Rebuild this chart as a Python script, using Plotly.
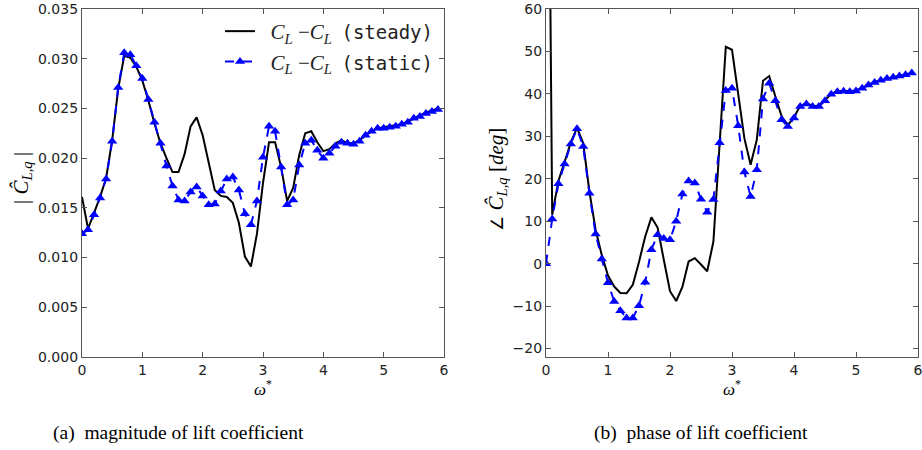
import plotly.graph_objects as go

omega = [round(0.1 * i, 1) for i in range(60)]

mag_steady = [0.0161, 0.0129, 0.0145, 0.0161, 0.0180, 0.0218, 0.0270, 0.0303, 0.0301, 0.0292,
              0.0278, 0.0258, 0.0235, 0.0215, 0.0200, 0.0186, 0.0186, 0.0204, 0.0232, 0.0241,
              0.0223, 0.0194, 0.0168, 0.0162, 0.0161, 0.0155, 0.0135, 0.0101, 0.0091, 0.0124,
              0.0175, 0.0216, 0.0216, 0.0191, 0.0157, 0.0170, 0.0203, 0.0225, 0.0227, 0.0216,
              0.0207, 0.0209, 0.0215, 0.0218, 0.0215, 0.0215, 0.0218, 0.0223, 0.0227, 0.0230,
              0.0231, 0.0232, 0.0233, 0.0234, 0.0237, 0.0240, 0.0243, 0.0246, 0.0248, 0.0250]

mag_static = [0.0124, 0.0128, 0.0143, 0.0160, 0.0179, 0.0217, 0.0271, 0.0306, 0.0304, 0.0293,
              0.0280, 0.0259, 0.0236, 0.0215, 0.0192, 0.0172, 0.0158, 0.0157, 0.0166, 0.0171,
              0.0162, 0.0153, 0.0154, 0.0167, 0.0179, 0.0181, 0.0168, 0.0144, 0.0133, 0.0157,
              0.0201, 0.0232, 0.0227, 0.0191, 0.0153, 0.0158, 0.0193, 0.0215, 0.0218, 0.0208,
              0.0200, 0.0205, 0.0212, 0.0216, 0.0215, 0.0214, 0.0217, 0.0223, 0.0227, 0.0230,
              0.0230, 0.0231, 0.0232, 0.0234, 0.0236, 0.0240, 0.0242, 0.0245, 0.0247, 0.0249]

ph_steady = [180.0, 11.5, 19.5, 24.0, 28.5, 32.0, 28.4, 17.0, 8.0, 2.0,
             -2.8, -5.4, -6.9, -7.0, -5.0, 0.4, 6.4, 10.9, 8.5, 0.9,
             -6.5, -8.8, -5.5, 0.5, 1.3, -0.2, -1.8, 5.2, 29.0, 51.1,
             50.4, 40.0, 29.5, 23.3, 29.2, 43.1, 44.2, 39.4, 34.7, 32.6,
             34.5, 37.2, 37.8, 37.2, 37.1, 38.5, 40.0, 40.6, 40.7, 40.6,
             40.8, 41.4, 42.2, 42.8, 43.2, 43.6, 43.9, 44.2, 44.5, 44.9]

ph_static = [0.0, 10.5, 18.8, 23.5, 28.2, 31.8, 27.6, 16.6, 7.0, 1.1,
             -4.5, -8.9, -11.1, -12.8, -12.8, -9.9, -4.4, 3.3, 6.8, 5.9,
             5.6, 10.0, 16.4, 19.5, 19.0, 15.2, 12.1, 15.1, 28.5, 40.8,
             41.3, 32.5, 21.6, 15.8, 22.1, 38.8, 42.5, 38.4, 33.9, 32.3,
             34.3, 37.0, 37.6, 37.0, 37.0, 38.4, 39.9, 40.5, 40.6, 40.5,
             40.7, 41.3, 42.1, 42.7, 43.2, 43.6, 43.9, 44.2, 44.5, 44.9]

W, H = 922, 450


def px(x):
    return x / W


def py(y):
    return 1 - y / H


FRAME = "#555555"
TICKFONT = dict(family="DejaVu Sans", size=14, color="#222222")
MONO = "font-family:'DejaVu Sans Mono';font-size:19px"
PAD = "\u2002"

legend_steady = (PAD + "<i>C<sub>L</sub></i> \u2212<i>C<sub>L</sub></i>\u2009 "
                 f"<span style=\"{MONO}\">(steady)</span>")
legend_static = (PAD + "<i>C<sub>L</sub></i> \u2212<i>C<sub>L</sub></i>\u2009 "
                 f"<span style=\"{MONO}\">(static)</span>")

fig = go.Figure()

fig.add_trace(go.Scatter(x=omega, y=mag_steady, mode="lines", name=legend_steady,
                         line=dict(color="black", width=2), xaxis="x", yaxis="y"))
fig.add_trace(go.Scatter(x=omega, y=mag_static, mode="lines+markers", name=legend_static,
                         line=dict(color="#0000ff", width=2, dash="dash"),
                         marker=dict(symbol="triangle-up", size=9, color="#0000ff"),
                         xaxis="x", yaxis="y"))
fig.add_trace(go.Scatter(x=omega, y=ph_steady, mode="lines", showlegend=False,
                         line=dict(color="black", width=2), xaxis="x2", yaxis="y2"))
fig.add_trace(go.Scatter(x=omega, y=ph_static, mode="lines+markers", showlegend=False,
                         line=dict(color="#0000ff", width=2, dash="dash"),
                         marker=dict(symbol="triangle-up", size=9, color="#0000ff"),
                         xaxis="x2", yaxis="y2"))

ydom = [py(357), py(9)]
axis_common = dict(showline=True, linecolor=FRAME, linewidth=1.3, mirror="allticks",
                   ticks="inside", ticklen=5, tickcolor=FRAME, showgrid=False,
                   zeroline=False, tickfont=TICKFONT, automargin=False,
                   ticklabeloverflow="allow")

fig.update_layout(
    template="none",
    width=W, height=H,
    margin=dict(l=0, r=0, t=0, b=0, pad=0),
    paper_bgcolor="white", plot_bgcolor="white",
    xaxis=dict(domain=[px(82), px(444)], range=[0, 6], dtick=1, anchor="y", **axis_common),
    yaxis=dict(domain=ydom, range=[0, 0.035], dtick=0.005, tickformat=".3f", anchor="x",
               **axis_common),
    xaxis2=dict(domain=[px(546), px(918)], range=[0, 6], dtick=1, anchor="y2", **axis_common),
    yaxis2=dict(domain=ydom, range=[-22, 60], tickvals=[-20, -10, 0, 10, 20, 30, 40, 50, 60],
                ticktext=["\u221220", "\u221210", "0", "10", "20", "30", "40", "50", "60"],
                anchor="x2", **axis_common),
    legend=dict(x=px(220), y=py(11), xanchor="left", yanchor="top",
                bgcolor="rgba(255,255,255,0)", borderwidth=0,
                font=dict(family="Liberation Serif", size=21, color="#222222"),
                tracegroupgap=3, itemwidth=30),
    showlegend=True,
)

ann_font = dict(family="Liberation Serif", size=17, color="black")
cap_font = dict(family="Liberation Serif", size=19.5, color="black")
ttl_font = dict(family="Liberation Serif", size=21, color="black")
annotations = [
    dict(text="<i>\u03c9</i><sup>*</sup>", x=px(263), y=py(388)),
    dict(text="<i>\u03c9</i><sup>*</sup>", x=px(732), y=py(388)),
    dict(text="(a)  magnitude of lift coefficient", x=px(178.5), y=py(433), font=cap_font),
    dict(text="(b)  phase of lift coefficient", x=px(701), y=py(433), font=cap_font),
    dict(text="| <i>\u0108</i><sub><i>L,q</i></sub> |", x=px(22), y=py(178), textangle=-90,
         font=ttl_font),
    dict(text="<span style=\"font-family:'DejaVu Sans';font-size:17px\">\u2220</span> "
              "<i>\u0108</i><sub><i>L,q</i></sub> [<i>deg</i>]",
         x=px(497), y=py(180), textangle=-90, font=ttl_font),
]
for a in annotations:
    a.setdefault("font", ann_font)
    a.update(xref="paper", yref="paper", showarrow=False,
             xanchor="center", yanchor="middle")
fig.update_layout(annotations=annotations)

fig.write_html("out.html", config={"displayModeBar": False},
               post_script="document.body.style.margin='0';document.body.style.overflow='hidden';")
